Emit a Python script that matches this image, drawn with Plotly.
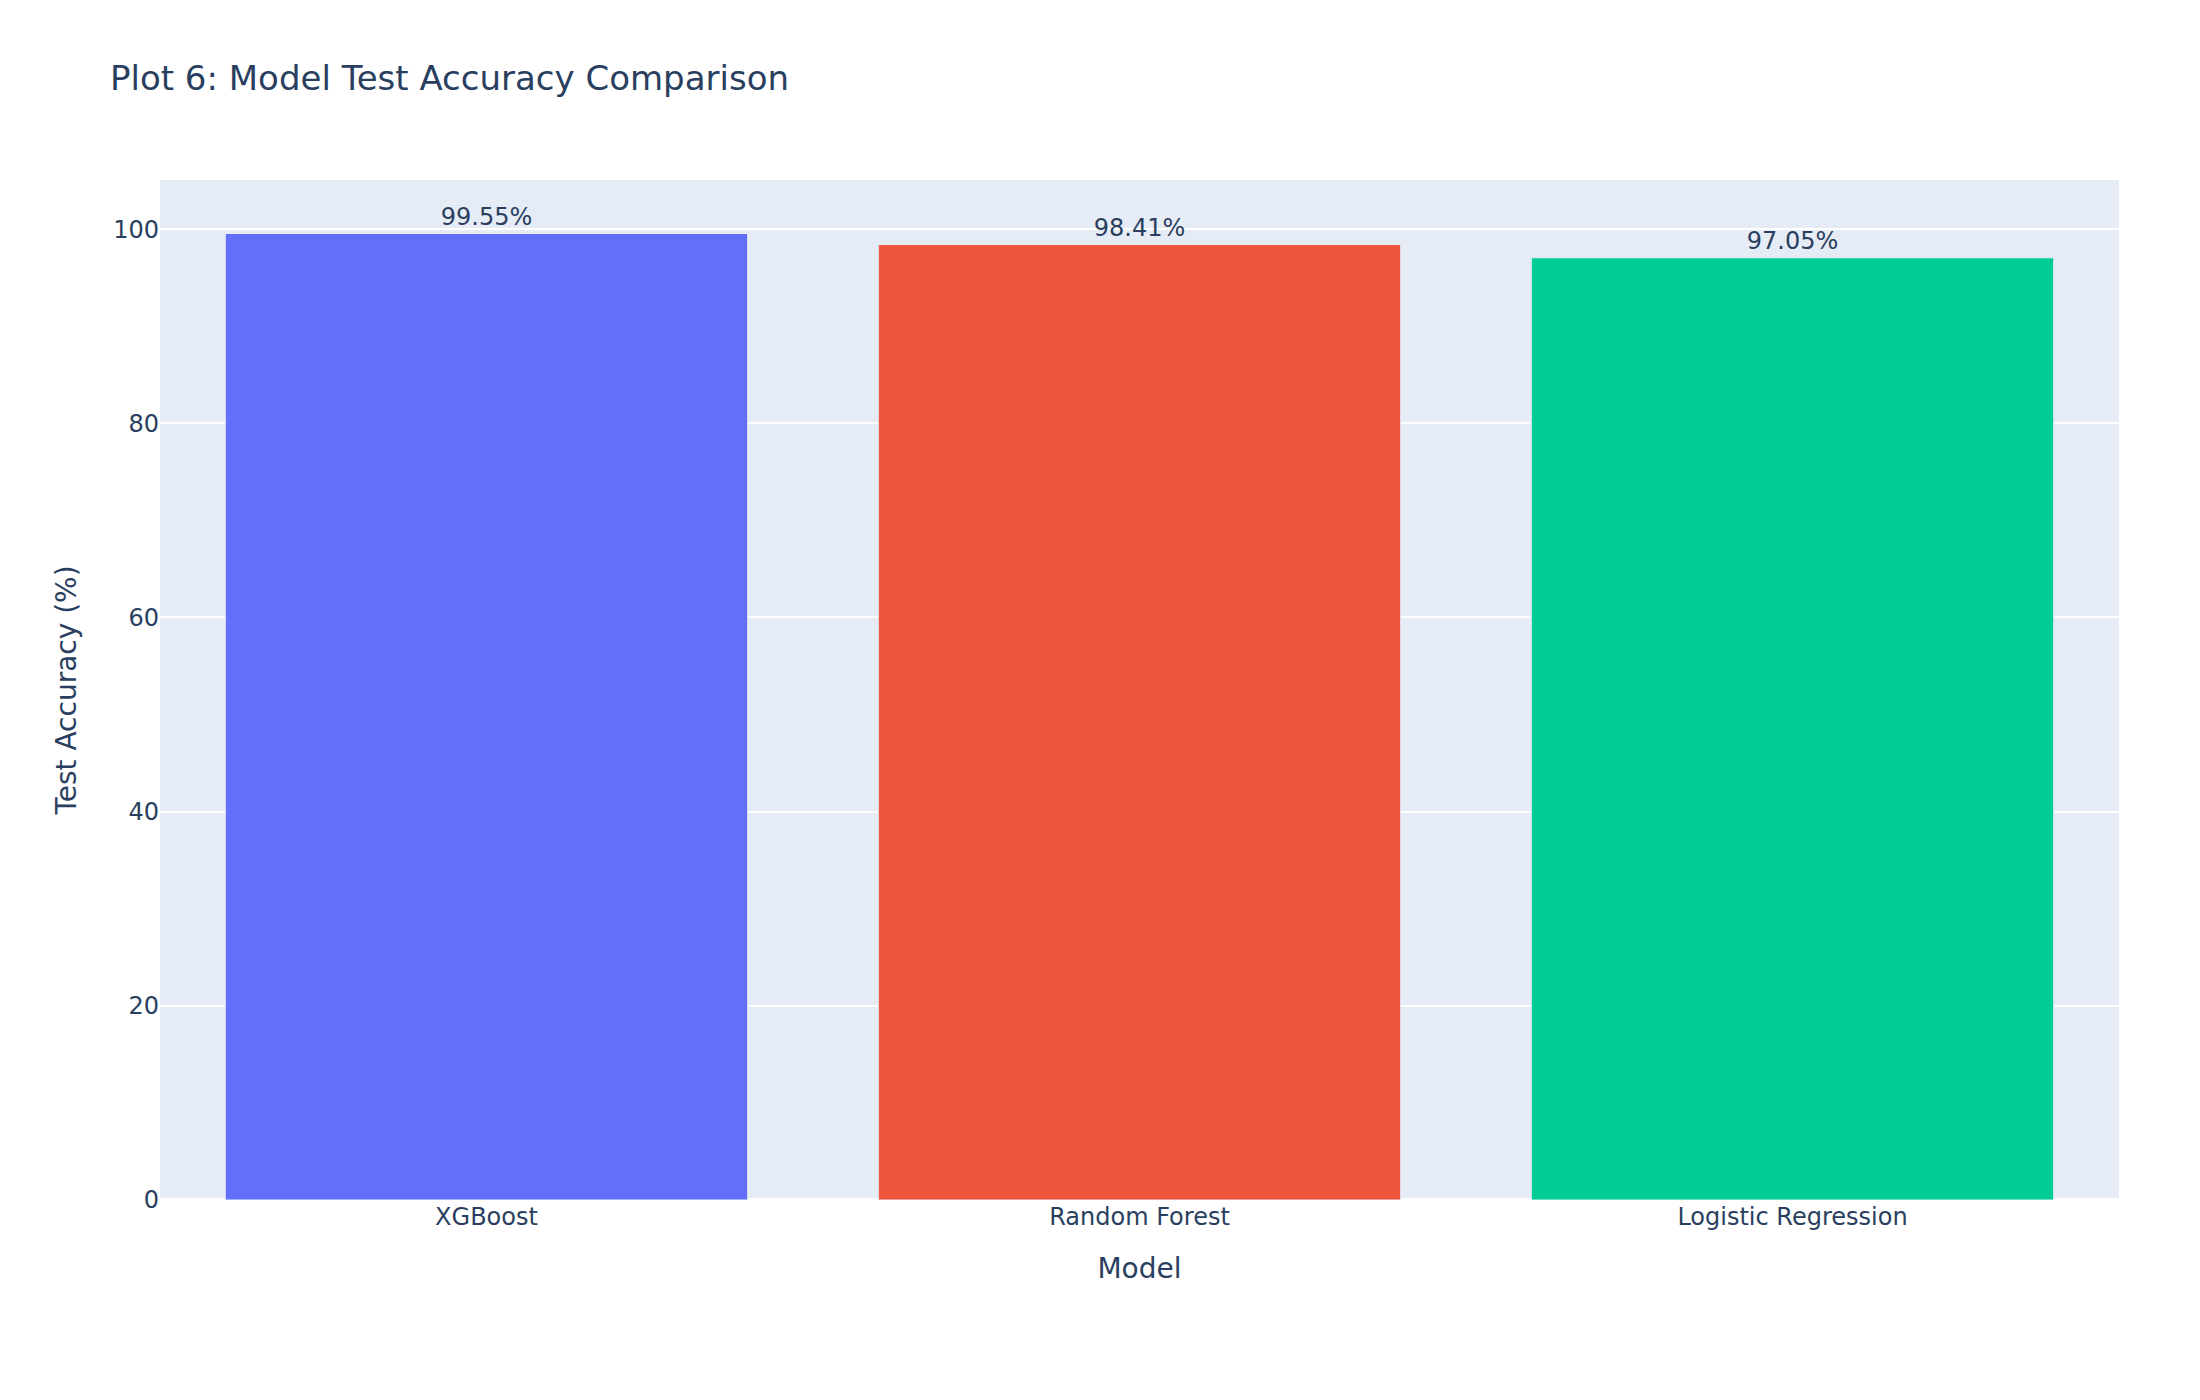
import plotly.graph_objects as go

# Model accuracies
models = ['XGBoost', 'Random Forest', 'Logistic Regression']
accuracy = [99.55, 98.41, 97.05]
bar_colors = ['#636efa', '#EF553B', '#00cc96']

fig = go.Figure()

for model, acc, color in zip(models, accuracy, bar_colors):
    fig.add_trace(go.Bar(
        x=[model],
        y=[acc],
        name=model,
        text=['%.2f%%' % acc],
        textposition='outside',
        textfont=dict(size=24),
        marker=dict(color=color, line=dict(color='#E5ECF6', width=1)),
        showlegend=False,
    ))

# page body keeps an 8px margin, so the figure is sized to fit inside it
fig.update_layout(
    width=2184,
    height=1384,
    title=dict(text='Plot 6: Model Test Accuracy Comparison', font=dict(size=34),
               x=0.0467, y=0.949, yanchor='middle'),
    font=dict(family='DejaVu Sans', size=24, color='#2a3f5f'),
    margin=dict(l=152, r=73, t=172, b=192),
    barmode='group',
    bargap=0.2,
    plot_bgcolor='#E5ECF6',
    paper_bgcolor='white',
)

fig.update_xaxes(title=dict(text='Model', font=dict(size=28), standoff=28), showgrid=False,
                 categoryorder='array', categoryarray=models)
fig.update_yaxes(title=dict(text='Test Accuracy (%)', font=dict(size=28), standoff=28),
                 range=[0, 105.06], gridcolor='white', gridwidth=2,
                 zeroline=True, zerolinecolor='white', zerolinewidth=4,
                 tickvals=[0, 20, 40, 60, 80, 100])

fig.write_html('out.html')
